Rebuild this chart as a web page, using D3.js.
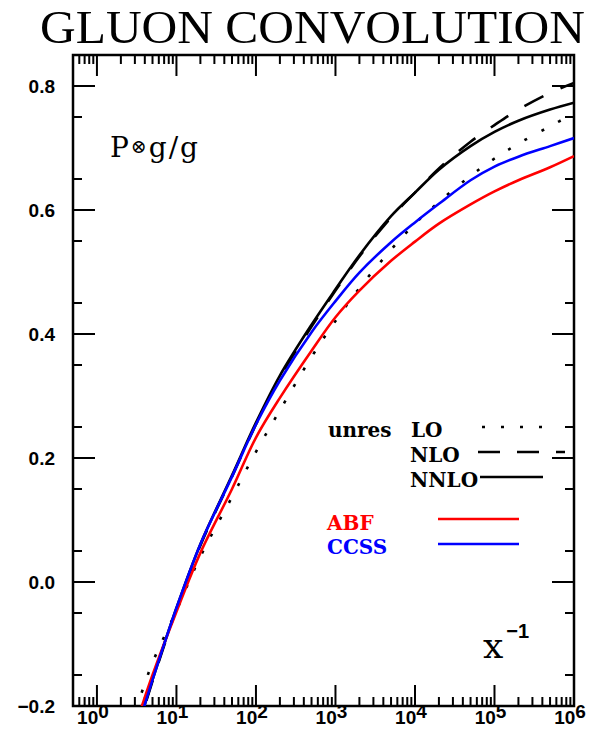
<!DOCTYPE html>
<html>
<head>
<meta charset="utf-8">
<title>Gluon convolution</title>
<script src="https://d3js.org/d3.v7.min.js"></script>
<style>
  body { margin: 0; background: #fff; }
  .tick-label { font-family: "Liberation Sans", Arial, sans-serif; font-weight: bold; font-size: 19px; }
</style>
</head>
<body>
<div id="chart"></div>
<script>
// x = 1/x values
var xVals = [3, 3.5, 5, 10, 20, 50, 100, 200, 500, 1e3, 2e3, 5e3, 1e4, 2e4, 5e4, 1e5, 2e5, 5e5, 1e6];

// unresummed LO / NLO / NNLO
var loVals   = [-0.207, -0.185, -0.130, -0.046, 0.041, 0.137, 0.210, 0.277, 0.363, 0.421, 0.474, 0.536, 0.578, 0.613, 0.655, 0.683, 0.707, 0.735, 0.756];
var nloVals  = [-0.253, -0.225, -0.160, -0.044, 0.059, 0.170, 0.254, 0.330, 0.412, 0.470, 0.525, 0.588, 0.628, 0.667, 0.710, 0.737, 0.762, 0.789, 0.805];
var nnloVals = [-0.250, -0.222, -0.158, -0.042, 0.061, 0.172, 0.257, 0.333, 0.415, 0.472, 0.527, 0.590, 0.628, 0.665, 0.703, 0.726, 0.744, 0.762, 0.773];
// resummed
var abfVals  = [-0.233, -0.208, -0.150, -0.048, 0.047, 0.150, 0.233, 0.297, 0.373, 0.427, 0.470, 0.518, 0.549, 0.578, 0.609, 0.630, 0.648, 0.669, 0.687];
var ccssVals = [-0.250, -0.222, -0.158, -0.042, 0.061, 0.170, 0.254, 0.325, 0.403, 0.453, 0.499, 0.548, 0.580, 0.610, 0.648, 0.670, 0.686, 0.703, 0.716];

var yTicks = [-0.2, 0.0, 0.2, 0.4, 0.6, 0.8];
var xDecades = [0, 1, 2, 3, 4, 5, 6];

var W = 592, H = 733;
var margin = {top: 55, right: 18, bottom: 27, left: 73};
var width = W - margin.left - margin.right,
    height = H - margin.top - margin.bottom;

var svg = d3.select("#chart").append("svg")
  .attr("width", W).attr("height", H);

var x = d3.scaleLog().domain([0.5, 1e6]).range([0, width]);
var y = d3.scaleLinear().domain([-0.2, 0.85]).range([height, 0]);

// title
svg.append("text")
  .attr("x", 40).attr("y", 43)
  .attr("textLength", 545).attr("lengthAdjust", "spacingAndGlyphs")
  .style("font-family", "'Liberation Serif', 'Times New Roman', serif")
  .style("font-size", "47px")
  .text("GLUON CONVOLUTION");

var g = svg.append("g")
  .attr("transform", "translate(" + margin.left + "," + margin.top + ")");

g.append("clipPath").attr("id", "clip")
  .append("rect").attr("width", width).attr("height", height);

// ticks: major and minor, on all four sides, pointing in
var minorX = [];
for (var e = -1; e < 6; e++) {
  for (var m = 2; m <= 9; m++) {
    var v = m * Math.pow(10, e);
    if (v >= 0.5 && v <= 1e6) minorX.push(v);
  }
}
var minorY = d3.range(-0.15, 0.85, 0.1).map(function(d) { return +d.toFixed(2); });

var majLen = 21, minLen = 9;
var tickG = g.append("g").attr("stroke", "#000").attr("stroke-width", 2);

function xTick(v, len) {
  tickG.append("line").attr("x1", x(v)).attr("x2", x(v)).attr("y1", height).attr("y2", height - len);
  tickG.append("line").attr("x1", x(v)).attr("x2", x(v)).attr("y1", 0).attr("y2", len);
}
function yTick(v, len) {
  tickG.append("line").attr("y1", y(v)).attr("y2", y(v)).attr("x1", 0).attr("x2", len);
  tickG.append("line").attr("y1", y(v)).attr("y2", y(v)).attr("x1", width).attr("x2", width - len);
}
xDecades.forEach(function(d) { xTick(Math.pow(10, d), majLen); });
minorX.forEach(function(d) { xTick(d, minLen); });
yTicks.forEach(function(d) { yTick(d, majLen + 1); });
minorY.forEach(function(d) { yTick(d, minLen); });

// frame
g.append("rect").attr("width", width).attr("height", height)
  .attr("fill", "none").attr("stroke", "#000").attr("stroke-width", 2.5);

// y labels
var fmt = d3.format(".1f");
g.selectAll(".ylab").data(yTicks).enter().append("text")
  .attr("class", "tick-label")
  .attr("x", -18).attr("y", function(d) { return y(d); })
  .attr("dy", "0.36em")
  .attr("text-anchor", "end")
  .text(function(d) { return fmt(d); });

// x labels 10^n
xDecades.forEach(function(d) {
  var t = g.append("text").attr("class", "tick-label")
    .attr("x", x(Math.pow(10, d)) - 4).attr("y", height + 18)
    .attr("text-anchor", "middle");
  t.append("tspan").text("10");
  t.append("tspan").attr("dy", -6).text(d);
});

// curves
var line = d3.line()
  .x(function(d) { return x(d[0]); })
  .y(function(d) { return y(d[1]); })
  .curve(d3.curveCatmullRom.alpha(0.5));

var series = [
  {vals: loVals,   color: "#000", dash: "3,16"},
  {vals: nloVals,  color: "#000", dash: "21,19"},
  {vals: nnloVals, color: "#000", dash: null},
  {vals: abfVals,  color: "#ff0000", dash: null},
  {vals: ccssVals, color: "#0000ff", dash: null}
];
var curves = g.append("g").attr("clip-path", "url(#clip)");
series.forEach(function(s) {
  curves.append("path")
    .datum(xVals.map(function(v, i) { return [v, s.vals[i]]; }))
    .attr("d", line)
    .attr("fill", "none")
    .attr("stroke", s.color)
    .attr("stroke-width", 2.6)
    .attr("stroke-dasharray", s.dash);
});

// labels in the plot
var serif = "'DejaVu Serif', serif";
var pl = svg.append("text")
  .attr("x", 110).attr("y", 157)
  .style("font-family", serif).style("font-size", "28px")
  .style("letter-spacing", "2px");
pl.append("tspan").text("P");
pl.append("tspan").style("font-size", "19px").attr("dy", -4).text("\u2297");
pl.append("tspan").attr("dy", 4).text("g/g");

var xl = svg.append("text").attr("x", 483).attr("y", 658)
  .style("font-family", serif).style("font-size", "36px");
xl.append("tspan").text("x");
xl.append("tspan").attr("dy", -20).attr("dx", 3)
  .style("font-family", "'Liberation Sans', sans-serif").style("font-weight", "bold")
  .style("font-size", "20px").text("\u22121");

// legend
var legend = [
  {label: "LO",   lx: 411, ly: 437, y0: 427, x1: 482, x2: 545, color: "#000", dash: "3,16"},
  {label: "NLO",  lx: 410, ly: 462, y0: 452, x1: 478, x2: 565, color: "#000", dash: "22,17"},
  {label: "NNLO", lx: 410, ly: 487, y0: 477, x1: 480, x2: 543, color: "#000", dash: null},
  {label: "ABF",  lx: 327, ly: 530, y0: 519, x1: 438, x2: 519, color: "#ff0000", dash: null},
  {label: "CCSS", lx: 327, ly: 554, y0: 544, x1: 438, x2: 519, color: "#0000ff", dash: null}
];
var legFont = function(sel) {
  return sel.style("font-family", serif).style("font-weight", "bold").style("font-size", "20px");
};
legFont(svg.append("text").attr("x", 328).attr("y", 437)).text("unres");
legend.forEach(function(l) {
  legFont(svg.append("text").attr("x", l.lx).attr("y", l.ly))
    .attr("fill", l.color)
    .text(l.label);
  svg.append("line").attr("x1", l.x1).attr("x2", l.x2).attr("y1", l.y0).attr("y2", l.y0)
    .attr("stroke", l.color).attr("stroke-width", 2.5)
    .attr("stroke-dasharray", l.dash);
});
</script>
</body>
</html>
